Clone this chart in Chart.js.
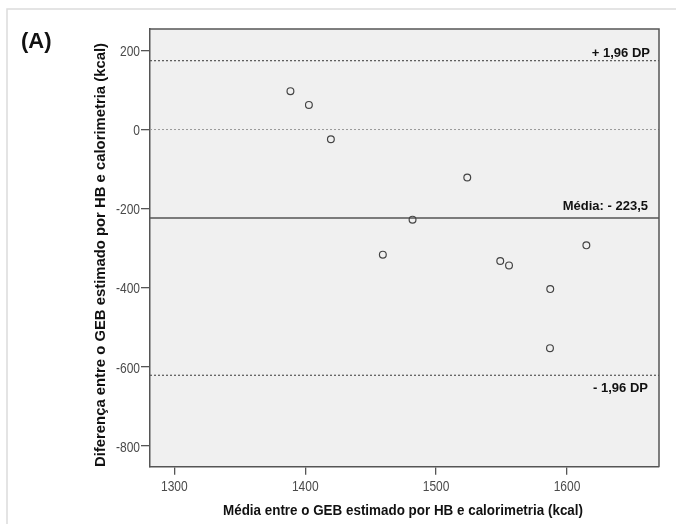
<!DOCTYPE html>
<html>
<head>
<meta charset="utf-8">
<script src="https://cdn.jsdelivr.net/npm/chart.js@4/dist/chart.umd.min.js"></script>
<style>
  html, body { margin: 0; padding: 0; background: #fff; }
  #wrap { width: 676px; height: 524px; position: relative; }
</style>
</head>
<body>
<div id="wrap"><canvas id="blandChart"></canvas></div>
<script>
// data
const mediaValues = [1388.7, 1402.8, 1419.6, 1523.8, 1482.0, 1459.3, 1549.0, 1555.7, 1614.8, 1587.2, 1587.0];
const diffValues  = [96.9, 62.2, -24.5, -121.4, -227.7, -316.2, -332.4, -343.3, -292.7, -403.2, -552.5];

const meanDiff = -223.5;
const upperLimit = 174.0;
const lowerLimit = -621.0;

const xTicks = [1300, 1400, 1500, 1600];
const yTicks = [200, 0, -200, -400, -600, -800];
const xMin = 1281.4, xMax = 1670.3;
const yMin = -852, yMax = 254;

const panelLabel = '(A)';
const xTitle = 'Média entre o GEB estimado por HB e calorimetria (kcal)';
const yTitle = 'Diferença entre o GEB estimado por HB e calorimetria (kcal)';
const upperText = '+ 1,96 DP';
const meanText = 'Média: - 223,5';
const lowerText = '- 1,96 DP';

const points = mediaValues.map((x, i) => ({ x: x, y: diffValues[i] }));
const hLine = v => [{ x: xMin, y: v }, { x: xMax, y: v }];

// texto "estreito" (tipo Arial Narrow) com escala horizontal
function narrowText(ctx, txt, x, y, sx) {
    ctx.save();
    ctx.translate(x, y);
    ctx.scale(sx, 1);
    ctx.fillText(txt, 0, 0);
    ctx.restore();
}

// fundo, moldura e textos
const decor = {
    id: 'decor',
    beforeDraw(chart) {
        const { ctx, chartArea: a } = chart;
        ctx.save();
        ctx.fillStyle = '#f0f0f0';
        ctx.fillRect(a.left, a.top, a.right - a.left, a.bottom - a.top);
        // moldura externa
        ctx.strokeStyle = '#dcdcdc';
        ctx.lineWidth = 1.5;
        ctx.beginPath();
        ctx.moveTo(7, chart.height);
        ctx.lineTo(7, 9);
        ctx.lineTo(chart.width, 9);
        ctx.stroke();
        ctx.restore();
    },
    afterDraw(chart) {
        const { ctx, chartArea: a, scales } = chart;
        const x = scales.x, y = scales.y;
        ctx.save();
        ctx.strokeStyle = '#555';
        ctx.lineWidth = 1.5;
        ctx.beginPath();
        ctx.moveTo(a.left, a.top);
        ctx.lineTo(a.right, a.top);
        ctx.lineTo(a.right, a.bottom);
        ctx.stroke();

        // rótulos dos ticks
        ctx.fillStyle = '#4a4a4a';
        ctx.font = '15px "Liberation Sans", Arial, sans-serif';
        ctx.textBaseline = 'middle';
        ctx.textAlign = 'center';
        x.ticks.forEach(t => narrowText(ctx, String(t.value), x.getPixelForValue(t.value), 487, 0.8));
        ctx.textAlign = 'right';
        y.ticks.forEach(t => narrowText(ctx, String(t.value), 140, y.getPixelForValue(t.value) + 1.5, 0.8));

        ctx.fillStyle = '#111';
        ctx.font = 'bold 22px "Liberation Sans", Arial, sans-serif';
        ctx.textAlign = 'left';
        ctx.textBaseline = 'middle';
        ctx.fillText(panelLabel, 21, 42);

        ctx.font = 'bold 13px "Liberation Sans", Arial, sans-serif';
        ctx.textAlign = 'right';
        ctx.textBaseline = 'alphabetic';
        ctx.fillText(upperText, 650, y.getPixelForValue(upperLimit) - 4);
        ctx.fillText(meanText, 648, y.getPixelForValue(meanDiff) - 8);
        ctx.fillText(lowerText, 648, y.getPixelForValue(lowerLimit) + 17);

        // título do eixo x
        ctx.font = 'bold 15px "Liberation Sans", Arial, sans-serif';
        ctx.textAlign = 'center';
        const wx = ctx.measureText(xTitle).width;
        narrowText(ctx, xTitle, 403, 515, 360 / wx);

        // título do eixo y
        ctx.translate(101, 255);
        ctx.rotate(-Math.PI / 2);
        ctx.font = 'bold 14px "Liberation Sans", Arial, sans-serif';
        ctx.textBaseline = 'middle';
        const wy = ctx.measureText(yTitle).width;
        narrowText(ctx, yTitle, 0, 0, 424 / wy);
        ctx.restore();
    }
};

new Chart(document.getElementById('blandChart'), {
    type: 'scatter',
    data: {
        datasets: [
            {
                data: points,
                pointRadius: 3.4,
                pointBorderWidth: 1.2,
                borderColor: '#444',
                backgroundColor: 'rgba(0,0,0,0)',
                order: 0
            },
            { data: hLine(0), showLine: true, pointRadius: 0, borderColor: '#9a9a9a', borderWidth: 1, borderDash: [2, 2] },
            { data: hLine(upperLimit), showLine: true, pointRadius: 0, borderColor: '#555', borderWidth: 1.2, borderDash: [2, 2] },
            { data: hLine(lowerLimit), showLine: true, pointRadius: 0, borderColor: '#555', borderWidth: 1.2, borderDash: [2, 2] },
            { data: hLine(meanDiff), showLine: true, pointRadius: 0, borderColor: '#555', borderWidth: 1.5 }
        ]
    },
    options: {
        responsive: true,
        maintainAspectRatio: false,
        animation: false,
        layout: { padding: { left: 0, top: 29, right: 17, bottom: 0 } },
        plugins: { legend: { display: false }, tooltip: { enabled: false } },
        scales: {
            x: {
                type: 'linear',
                min: xMin, max: xMax,
                afterBuildTicks: s => { s.ticks = xTicks.map(v => ({ value: v })); },
                afterFit: s => { s.height = 57.3; },
                grid: { drawOnChartArea: false, drawTicks: true, tickLength: 8, color: '#555', lineWidth: 1.3 },
                border: { display: true, color: '#555', width: 1.5 },
                ticks: { display: false }
            },
            y: {
                type: 'linear',
                min: yMin, max: yMax,
                afterBuildTicks: s => { s.ticks = yTicks.map(v => ({ value: v })); },
                afterFit: s => { s.width = 150; },
                grid: { drawOnChartArea: false, drawTicks: true, tickLength: 9, color: '#555', lineWidth: 1.3 },
                border: { display: true, color: '#555', width: 1.5 },
                ticks: { display: false }
            }
        }
    },
    plugins: [decor]
});
</script>
</body>
</html>
